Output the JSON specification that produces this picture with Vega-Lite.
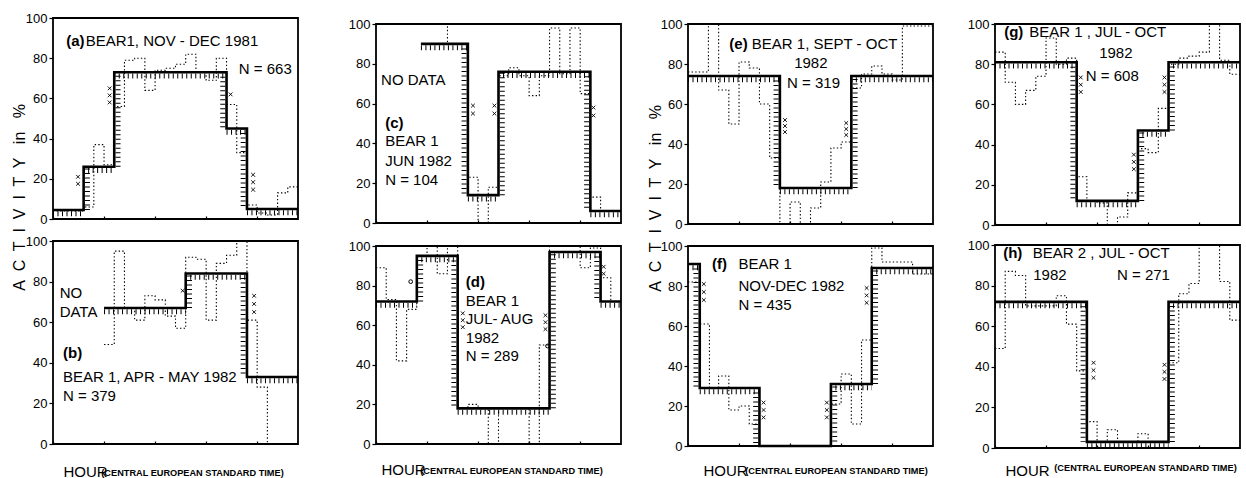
{
"$schema": "https://vega.github.io/schema/vega-lite/v6.json",
"padding": {"left": 10, "top": 7, "right": 0, "bottom": 0},
"background": "white",
"config": {
  "view": {"stroke": "black", "strokeWidth": 1.8},
  "font": "Liberation Sans",
  "axis": {"domain": false, "grid": false, "labelFont": "Liberation Sans", "labelFontSize": 13, "labelColor": "black", "tickColor": "black", "tickWidth": 1.2, "titleFont": "Liberation Sans", "titleColor": "black", "titleFontWeight": "normal", "labelFlush": false, "labelOverlap": false},
  "axisX": {"values": [0,1,2,3,4,5,6,7,8,9,10,11,12,13,14,15,16,17,18,19,20,21,22,23,24], "labelExpr": "datum.value % 6 === 0 && datum.value > 0 ? datum.label : ''", "tickSize": -3, "labelPadding": 2},
  "axisY": {"values": [0,10,20,30,40,50,60,70,80,90,100], "labelExpr": "datum.value % 20 === 0 ? datum.label : ''", "tickSize": 4, "labelPadding": 2},
  "text": {"font": "Liberation Sans", "color": "black"},
  "title": {"font": "Liberation Sans", "color": "black"}
},
"spacing": 18,
"hconcat": [
  {"bounds": "flush", "spacing": 22, "vconcat": [
   {"width": 245, "height": 201,
    "data": {"values": [
     {"s":"s","h":0,"v":4.5},{"s":"s","h":3,"v":26},{"s":"s","h":6,"v":73},{"s":"s","h":17,"v":45},{"s":"s","h":19,"v":5},{"s":"s","h":24,"v":5},
     {"s":"d","h":0,"v":4},{"s":"d","h":1,"v":4},{"s":"d","h":2,"v":4},{"s":"d","h":3,"v":6},{"s":"d","h":4,"v":37},{"s":"d","h":5,"v":27},{"s":"d","h":6,"v":56},{"s":"d","h":7,"v":79},{"s":"d","h":8,"v":80},{"s":"d","h":9,"v":64},{"s":"d","h":10,"v":74},{"s":"d","h":11,"v":75},{"s":"d","h":12,"v":77},{"s":"d","h":13,"v":82},{"s":"d","h":14,"v":73},{"s":"d","h":15,"v":69},{"s":"d","h":16,"v":80},{"s":"d","h":17,"v":57},{"s":"d","h":18,"v":33},{"s":"d","h":19,"v":7},{"s":"d","h":20,"v":3},{"s":"d","h":21,"v":2},{"s":"d","h":22,"v":13},{"s":"d","h":23,"v":16},{"s":"d","h":24,"v":16},
     {"s":"hh","h":0,"h2":3,"v":4.5},{"s":"hh","h":3,"h2":6,"v":26},{"s":"hh","h":6,"h2":17,"v":73},{"s":"hh","h":17,"h2":19,"v":45},{"s":"hh","h":19,"h2":24,"v":5},
     {"s":"hr","h":3,"v":4.5,"v2":26},{"s":"hr","h":6,"v":26,"v2":73},{"s":"hf","h":17,"v":73,"v2":45},{"s":"hf","h":19,"v":45,"v2":5},
     {"s":"x","h":2.45,"v":21},{"s":"x","h":2.45,"v":17.5},{"s":"x","h":5.55,"v":65},{"s":"x","h":5.55,"v":61.5},{"s":"x","h":5.55,"v":58},{"s":"x","h":17.4,"v":62},{"s":"x","h":19.6,"v":22},{"s":"x","h":19.6,"v":18.3},{"s":"x","h":19.6,"v":14.6},
     {"s":"lb","h":1.3,"v":88.5,"t":"(a)"},
     {"s":"l","h":3.2,"v":88.5,"t":"BEAR1, NOV - DEC 1981"},
     {"s":"l","h":18.2,"v":74.5,"t":"N = 663"}
    ]},
    "encoding": {
     "x": {"field":"h","type":"quantitative","scale":{"domain":[0,24],"nice":false,"zero":false},"axis":{"title":" ","titleX":0,"titleY":-211,"titleAlign":"left","titleBaseline":"top","titleFontSize":2}},
     "y": {"field":"v","type":"quantitative","scale":{"domain":[0,100],"nice":false},"axis":{"title":"A\u00a0 C\u00a0 T\u00a0 I\u00a0 V\u00a0 I\u00a0 T\u00a0 Y\u00a0\u00a0 in\u00a0\u00a0 %","titleX":-34,"titleY":179,"titleAngle":-90,"titleAlign":"center","titleBaseline":"middle","titleFontSize":16}}
    },
    "layer": [
     {"transform":[{"filter":"datum.s==='d'"}],"mark":{"type":"line","interpolate":"step-after","color":"black","strokeWidth":1.1,"strokeDash":[1.4,2.2]}},
     {"transform":[{"filter":"datum.s==='hh'"}],"mark":{"type":"rule","color":"black","strokeWidth":5,"strokeDash":[1,3.5],"yOffset":3.8,"clip":true},"encoding":{"x2":{"field":"h2"}}},
     {"transform":[{"filter":"datum.s==='hf'"}],"mark":{"type":"rule","color":"black","strokeWidth":5,"strokeDash":[1,3.5],"xOffset":-3.8,"clip":true},"encoding":{"y2":{"field":"v2"}}},
     {"transform":[{"filter":"datum.s==='hr'"}],"mark":{"type":"rule","color":"black","strokeWidth":5,"strokeDash":[1,3.5],"xOffset":3.8,"clip":true},"encoding":{"y2":{"field":"v2"}}},
     {"transform":[{"filter":"datum.s==='s'"}],"mark":{"type":"line","interpolate":"step-after","color":"black","strokeWidth":2.6}},
     {"transform":[{"filter":"datum.s==='x'"}],"mark":{"type":"point","shape":"M-1,-1L1,1M-1,1L1,-1","size":14,"filled":false,"opacity":1,"color":"black","strokeWidth":0.9}},
     {"transform":[{"filter":"datum.s==='lb'"}],"mark":{"type":"text","align":"left","baseline":"middle","fontSize":15,"fontWeight":"bold"},"encoding":{"text":{"field":"t"}}},
     {"transform":[{"filter":"datum.s==='l'"}],"mark":{"type":"text","align":"left","baseline":"middle","fontSize":15},"encoding":{"text":{"field":"t"}}}
    ]
   },
   {"width": 245, "height": 203,
    "title": {"text":"(CENTRAL EUROPEAN STANDARD TIME)","orient":"bottom","anchor":"start","fontSize":9.2,"fontWeight":"bold","dx":76,"dy":-14},
    "data": {"values": [
     {"s":"s","h":5,"v":67},{"s":"s","h":13,"v":84},{"s":"s","h":19,"v":33},{"s":"s","h":24,"v":33},
     {"s":"d","h":5,"v":49},{"s":"d","h":6,"v":95},{"s":"d","h":7,"v":67},{"s":"d","h":8,"v":61},{"s":"d","h":9,"v":73},{"s":"d","h":10,"v":71},{"s":"d","h":11,"v":63},{"s":"d","h":12,"v":57},{"s":"d","h":13,"v":92},{"s":"d","h":14,"v":91},{"s":"d","h":15,"v":61},{"s":"d","h":16,"v":89},{"s":"d","h":17,"v":93},{"s":"d","h":18,"v":100},{"s":"d","h":19,"v":61},{"s":"d","h":20,"v":28},{"s":"d","h":21,"v":0},{"s":"d","h":22,"v":0},{"s":"d","h":23,"v":0},{"s":"d","h":24,"v":0},
     {"s":"hh","h":5,"h2":13,"v":67},{"s":"hh","h":13,"h2":19,"v":84},{"s":"hh","h":19,"h2":24,"v":33},
     {"s":"hr","h":13,"v":67,"v2":84},{"s":"hf","h":19,"v":84,"v2":33},
     {"s":"x","h":12.7,"v":75.5},{"s":"x","h":19.7,"v":73},{"s":"x","h":19.7,"v":69},{"s":"x","h":19.7,"v":65},
     {"s":"l","h":0.65,"v":74.6,"t":"NO"},
     {"s":"l","h":0.65,"v":64.8,"t":"DATA"},
     {"s":"lb","h":0.98,"v":45,"t":"(b)"},
     {"s":"l","h":0.98,"v":32.8,"t":"BEAR 1, APR - MAY 1982"},
     {"s":"l","h":0.98,"v":23.8,"t":"N = 379"}
    ]},
    "encoding": {
     "x": {"field":"h","type":"quantitative","scale":{"domain":[0,24],"nice":false,"zero":false},"axis":{"title":"HOUR","titleX":10,"titleY":32,"titleAlign":"left","titleBaseline":"alphabetic","titleFontSize":15}},
     "y": {"field":"v","type":"quantitative","scale":{"domain":[0,100],"nice":false},"axis":{"title":null}}
    },
    "layer": [
     {"transform":[{"filter":"datum.s==='d'"}],"mark":{"type":"line","interpolate":"step-after","color":"black","strokeWidth":1.1,"strokeDash":[1.4,2.2]}},
     {"transform":[{"filter":"datum.s==='hh'"}],"mark":{"type":"rule","color":"black","strokeWidth":5,"strokeDash":[1,3.5],"yOffset":3.8,"clip":true},"encoding":{"x2":{"field":"h2"}}},
     {"transform":[{"filter":"datum.s==='hf'"}],"mark":{"type":"rule","color":"black","strokeWidth":5,"strokeDash":[1,3.5],"xOffset":-3.8,"clip":true},"encoding":{"y2":{"field":"v2"}}},
     {"transform":[{"filter":"datum.s==='hr'"}],"mark":{"type":"rule","color":"black","strokeWidth":5,"strokeDash":[1,3.5],"xOffset":3.8,"clip":true},"encoding":{"y2":{"field":"v2"}}},
     {"transform":[{"filter":"datum.s==='s'"}],"mark":{"type":"line","interpolate":"step-after","color":"black","strokeWidth":2.6}},
     {"transform":[{"filter":"datum.s==='x'"}],"mark":{"type":"point","shape":"M-1,-1L1,1M-1,1L1,-1","size":14,"filled":false,"opacity":1,"color":"black","strokeWidth":0.9}},
     {"transform":[{"filter":"datum.s==='lb'"}],"mark":{"type":"text","align":"left","baseline":"middle","fontSize":15,"fontWeight":"bold"},"encoding":{"text":{"field":"t"}}},
     {"transform":[{"filter":"datum.s==='l'"}],"mark":{"type":"text","align":"left","baseline":"middle","fontSize":15},"encoding":{"text":{"field":"t"}}}
    ]
   }
  ]},
  {"bounds": "flush", "spacing": 5, "vconcat": [
  {"width": 1, "height": 1, "view": {"stroke": null}, "data": {"values": [{"s": "z"}]}, "mark": {"type": "point", "opacity": 0, "size": 1}},
  {"spacing": 18, "hconcat": [
  {"bounds": "flush", "spacing": 23, "vconcat": [
    {"width": 245, "height": 199,
     "data": {"values": [
      {"s":"s","h":4.4,"v":90},{"s":"s","h":9,"v":14},{"s":"s","h":12,"v":76},{"s":"s","h":21,"v":6},{"s":"s","h":24,"v":6},
      {"s":"d","h":4.4,"v":100},{"s":"d","h":7,"v":90},{"s":"d","h":8,"v":90},{"s":"d","h":9,"v":23},{"s":"d","h":10,"v":0},{"s":"d","h":11,"v":18},{"s":"d","h":12,"v":74},{"s":"d","h":13,"v":78},{"s":"d","h":14,"v":74},{"s":"d","h":15,"v":64},{"s":"d","h":16,"v":74},{"s":"d","h":17,"v":98},{"s":"d","h":18,"v":75},{"s":"d","h":19,"v":98},{"s":"d","h":20,"v":65},{"s":"d","h":21,"v":13},{"s":"d","h":22,"v":6},{"s":"d","h":23,"v":6},{"s":"d","h":24,"v":6},
      {"s":"hh","h":4.4,"h2":9,"v":90},{"s":"hh","h":9,"h2":12,"v":14},{"s":"hh","h":12,"h2":21,"v":76},{"s":"hh","h":21,"h2":24,"v":6},
      {"s":"hf","h":9,"v":90,"v2":14},{"s":"hr","h":12,"v":14,"v2":76},{"s":"hf","h":21,"v":76,"v2":6},
      {"s":"x","h":9.5,"v":59},{"s":"x","h":9.5,"v":55},{"s":"x","h":11.6,"v":59},{"s":"x","h":11.6,"v":55},{"s":"x","h":21.3,"v":58},{"s":"x","h":21.3,"v":54},
      {"s":"l","h":0.5,"v":72,"t":"NO DATA"},
      {"s":"lb","h":0.9,"v":50.3,"t":"(c)"},
      {"s":"l","h":0.9,"v":41,"t":"BEAR 1"},
      {"s":"l","h":0.9,"v":31.3,"t":"JUN 1982"},
      {"s":"l","h":0.9,"v":21.8,"t":"N = 104"}
     ]},
     "encoding": {
      "x": {"field":"h","type":"quantitative","scale":{"domain":[0,24],"nice":false,"zero":false},"axis":{"title":null}},
      "y": {"field":"v","type":"quantitative","scale":{"domain":[0,100],"nice":false},"axis":{"title":" ","titleX":-51.5,"titleY":0,"titleAngle":0,"titleAlign":"left","titleBaseline":"top","titleFontSize":2}}
     },
     "layer": [
      {"transform":[{"filter":"datum.s==='d'"}],"mark":{"type":"line","interpolate":"step-after","color":"black","strokeWidth":1.1,"strokeDash":[1.4,2.2]}},
      {"transform":[{"filter":"datum.s==='hh'"}],"mark":{"type":"rule","color":"black","strokeWidth":5,"strokeDash":[1,3.5],"yOffset":3.8,"clip":true},"encoding":{"x2":{"field":"h2"}}},
      {"transform":[{"filter":"datum.s==='hf'"}],"mark":{"type":"rule","color":"black","strokeWidth":5,"strokeDash":[1,3.5],"xOffset":-3.8,"clip":true},"encoding":{"y2":{"field":"v2"}}},
      {"transform":[{"filter":"datum.s==='hr'"}],"mark":{"type":"rule","color":"black","strokeWidth":5,"strokeDash":[1,3.5],"xOffset":3.8,"clip":true},"encoding":{"y2":{"field":"v2"}}},
      {"transform":[{"filter":"datum.s==='s'"}],"mark":{"type":"line","interpolate":"step-after","color":"black","strokeWidth":2.6}},
      {"transform":[{"filter":"datum.s==='x'"}],"mark":{"type":"point","shape":"M-1,-1L1,1M-1,1L1,-1","size":14,"filled":false,"opacity":1,"color":"black","strokeWidth":0.9}},
      {"transform":[{"filter":"datum.s==='lb'"}],"mark":{"type":"text","align":"left","baseline":"middle","fontSize":15,"fontWeight":"bold"},"encoding":{"text":{"field":"t"}}},
      {"transform":[{"filter":"datum.s==='l'"}],"mark":{"type":"text","align":"left","baseline":"middle","fontSize":15},"encoding":{"text":{"field":"t"}}}
     ]
    },
    {"width": 245, "height": 198,
     "title": {"text":"(CENTRAL EUROPEAN STANDARD TIME)","orient":"bottom","anchor":"start","fontSize":9.2,"fontWeight":"bold","dx":72,"dy":-14},
     "data": {"values": [
      {"s":"s","h":0,"v":72},{"s":"s","h":4,"v":95},{"s":"s","h":8,"v":18},{"s":"s","h":17,"v":97},{"s":"s","h":22,"v":72},{"s":"s","h":24,"v":72},
      {"s":"d","h":0,"v":89},{"s":"d","h":1,"v":73},{"s":"d","h":2,"v":42},{"s":"d","h":3,"v":68},{"s":"d","h":4,"v":95},{"s":"d","h":5,"v":100},{"s":"d","h":6,"v":86},{"s":"d","h":7,"v":100},{"s":"d","h":8,"v":18},{"s":"d","h":9,"v":20},{"s":"d","h":10,"v":18},{"s":"d","h":11,"v":0},{"s":"d","h":12,"v":18},{"s":"d","h":13,"v":18},{"s":"d","h":14,"v":18},{"s":"d","h":15,"v":0},{"s":"d","h":16,"v":50},{"s":"d","h":17,"v":100},{"s":"d","h":18,"v":100},{"s":"d","h":19,"v":100},{"s":"d","h":20,"v":89},{"s":"d","h":21,"v":99},{"s":"d","h":22,"v":84},{"s":"d","h":23,"v":72},{"s":"d","h":24,"v":72},
      {"s":"hh","h":0,"h2":4,"v":72},{"s":"hh","h":4,"h2":8,"v":95},{"s":"hh","h":8,"h2":17,"v":18},{"s":"hh","h":17,"h2":22,"v":97},{"s":"hh","h":22,"h2":24,"v":72},
      {"s":"hr","h":4,"v":72,"v2":95},{"s":"hf","h":8,"v":95,"v2":18},{"s":"hr","h":17,"v":18,"v2":97},{"s":"hf","h":22,"v":97,"v2":72},
      {"s":"x","h":8.5,"v":66},{"s":"x","h":8.5,"v":62.5},{"s":"x","h":8.5,"v":59},{"s":"x","h":16.6,"v":65},{"s":"x","h":16.6,"v":61.5},{"s":"x","h":16.6,"v":58},{"s":"x","h":22.3,"v":89.5},{"s":"x","h":22.3,"v":86},
      {"s":"o","h":3.4,"v":82},{"s":"o","h":16.8,"v":49.5},
      {"s":"lb","h":8.8,"v":82,"t":"(d)"},
      {"s":"l","h":8.8,"v":72,"t":"BEAR 1"},
      {"s":"l","h":8.8,"v":63.3,"t":"JUL- AUG"},
      {"s":"l","h":8.8,"v":53.7,"t":"1982"},
      {"s":"l","h":8.8,"v":44.5,"t":"N = 289"}
     ]},
     "encoding": {
      "x": {"field":"h","type":"quantitative","scale":{"domain":[0,24],"nice":false,"zero":false},"axis":{"title":"HOUR","titleX":5,"titleY":30,"titleAlign":"left","titleBaseline":"alphabetic","titleFontSize":15}},
      "y": {"field":"v","type":"quantitative","scale":{"domain":[0,100],"nice":false},"axis":{"title":null}}
     },
     "layer": [
      {"transform":[{"filter":"datum.s==='d'"}],"mark":{"type":"line","interpolate":"step-after","color":"black","strokeWidth":1.1,"strokeDash":[1.4,2.2]}},
      {"transform":[{"filter":"datum.s==='hh'"}],"mark":{"type":"rule","color":"black","strokeWidth":5,"strokeDash":[1,3.5],"yOffset":3.8,"clip":true},"encoding":{"x2":{"field":"h2"}}},
      {"transform":[{"filter":"datum.s==='hf'"}],"mark":{"type":"rule","color":"black","strokeWidth":5,"strokeDash":[1,3.5],"xOffset":-3.8,"clip":true},"encoding":{"y2":{"field":"v2"}}},
      {"transform":[{"filter":"datum.s==='hr'"}],"mark":{"type":"rule","color":"black","strokeWidth":5,"strokeDash":[1,3.5],"xOffset":3.8,"clip":true},"encoding":{"y2":{"field":"v2"}}},
      {"transform":[{"filter":"datum.s==='s'"}],"mark":{"type":"line","interpolate":"step-after","color":"black","strokeWidth":2.6}},
      {"transform":[{"filter":"datum.s==='x'"}],"mark":{"type":"point","shape":"M-1,-1L1,1M-1,1L1,-1","size":14,"filled":false,"opacity":1,"color":"black","strokeWidth":0.9}},
      {"transform":[{"filter":"datum.s==='o'"}],"mark":{"type":"point","shape":"circle","size":14,"filled":false,"opacity":1,"color":"black","strokeWidth":1}},
      {"transform":[{"filter":"datum.s==='lb'"}],"mark":{"type":"text","align":"left","baseline":"middle","fontSize":15,"fontWeight":"bold"},"encoding":{"text":{"field":"t"}}},
      {"transform":[{"filter":"datum.s==='l'"}],"mark":{"type":"text","align":"left","baseline":"middle","fontSize":15},"encoding":{"text":{"field":"t"}}}
     ]
    }
  ]},
  {"bounds": "flush", "spacing": 22, "vconcat": [
    {"width": 245, "height": 200,
     "data": {"values": [
      {"s":"s","h":0,"v":74},{"s":"s","h":9,"v":18},{"s":"s","h":16,"v":74},{"s":"s","h":24,"v":74},
      {"s":"d","h":0,"v":76},{"s":"d","h":1,"v":76},{"s":"d","h":2,"v":100},{"s":"d","h":3,"v":67},{"s":"d","h":4,"v":50},{"s":"d","h":5,"v":81},{"s":"d","h":6,"v":78},{"s":"d","h":7,"v":60},{"s":"d","h":8,"v":33},{"s":"d","h":9,"v":0},{"s":"d","h":10,"v":11},{"s":"d","h":11,"v":0},{"s":"d","h":12,"v":8},{"s":"d","h":13,"v":21},{"s":"d","h":14,"v":38},{"s":"d","h":15,"v":41},{"s":"d","h":16,"v":68},{"s":"d","h":17,"v":75},{"s":"d","h":18,"v":79},{"s":"d","h":19,"v":75},{"s":"d","h":20,"v":72},{"s":"d","h":21,"v":99},{"s":"d","h":22,"v":99},{"s":"d","h":23,"v":99},{"s":"d","h":24,"v":99},
      {"s":"hh","h":0,"h2":9,"v":74},{"s":"hh","h":9,"h2":16,"v":18},{"s":"hh","h":16,"h2":24,"v":74},
      {"s":"hf","h":9,"v":74,"v2":18},{"s":"hr","h":16,"v":18,"v2":74},
      {"s":"x","h":9.5,"v":52},{"s":"x","h":9.5,"v":49},{"s":"x","h":9.5,"v":46},{"s":"x","h":15.5,"v":50.5},{"s":"x","h":15.5,"v":47.5},{"s":"x","h":15.5,"v":44.5},
      {"s":"lb","h":4.05,"v":90.2,"t":"(e)"},
      {"s":"l","h":6.25,"v":90.2,"t":"BEAR 1, SEPT - OCT"},
      {"s":"l","h":10.4,"v":80.5,"t":"1982"},
      {"s":"l","h":9.7,"v":70.5,"t":"N  =  319"}
     ]},
     "encoding": {
      "x": {"field":"h","type":"quantitative","scale":{"domain":[0,24],"nice":false,"zero":false},"axis":{"title":null}},
      "y": {"field":"v","type":"quantitative","scale":{"domain":[0,100],"nice":false},"axis":{"title":"A\u00a0 C\u00a0 T\u00a0 I\u00a0 V\u00a0 I\u00a0 T\u00a0 Y\u00a0\u00a0 in\u00a0\u00a0 %","titleX":-33,"titleY":174,"titleAngle":-90,"titleAlign":"center","titleBaseline":"middle","titleFontSize":16}}
     },
     "layer": [
      {"transform":[{"filter":"datum.s==='d'"}],"mark":{"type":"line","interpolate":"step-after","color":"black","strokeWidth":1.1,"strokeDash":[1.4,2.2]}},
      {"transform":[{"filter":"datum.s==='hh'"}],"mark":{"type":"rule","color":"black","strokeWidth":5,"strokeDash":[1,3.5],"yOffset":3.8,"clip":true},"encoding":{"x2":{"field":"h2"}}},
      {"transform":[{"filter":"datum.s==='hf'"}],"mark":{"type":"rule","color":"black","strokeWidth":5,"strokeDash":[1,3.5],"xOffset":-3.8,"clip":true},"encoding":{"y2":{"field":"v2"}}},
      {"transform":[{"filter":"datum.s==='hr'"}],"mark":{"type":"rule","color":"black","strokeWidth":5,"strokeDash":[1,3.5],"xOffset":3.8,"clip":true},"encoding":{"y2":{"field":"v2"}}},
      {"transform":[{"filter":"datum.s==='s'"}],"mark":{"type":"line","interpolate":"step-after","color":"black","strokeWidth":2.6}},
      {"transform":[{"filter":"datum.s==='x'"}],"mark":{"type":"point","shape":"M-1,-1L1,1M-1,1L1,-1","size":14,"filled":false,"opacity":1,"color":"black","strokeWidth":0.9}},
      {"transform":[{"filter":"datum.s==='lb'"}],"mark":{"type":"text","align":"left","baseline":"middle","fontSize":15,"fontWeight":"bold"},"encoding":{"text":{"field":"t"}}},
      {"transform":[{"filter":"datum.s==='l'"}],"mark":{"type":"text","align":"left","baseline":"middle","fontSize":15},"encoding":{"text":{"field":"t"}}}
     ]
    },
    {"width": 245, "height": 200,
     "title": {"text":"(CENTRAL EUROPEAN STANDARD TIME)","orient":"bottom","anchor":"start","fontSize":9.2,"fontWeight":"bold","dx":85,"dy":-15},
     "data": {"values": [
      {"s":"s","h":0,"v":91},{"s":"s","h":1.15,"v":29},{"s":"s","h":7,"v":0},{"s":"s","h":14,"v":31},{"s":"s","h":18,"v":89},{"s":"s","h":24,"v":89},
      {"s":"d","h":0,"v":82},{"s":"d","h":1.15,"v":61},{"s":"d","h":2.1,"v":29},{"s":"d","h":3,"v":35},{"s":"d","h":4,"v":18},{"s":"d","h":5,"v":20},{"s":"d","h":6,"v":11},{"s":"d","h":7,"v":0},{"s":"d","h":14,"v":21},{"s":"d","h":15,"v":36},{"s":"d","h":16,"v":11},{"s":"d","h":17,"v":53},{"s":"d","h":18,"v":99},{"s":"d","h":19,"v":92},{"s":"d","h":22,"v":86},{"s":"d","h":24,"v":86},
      {"s":"hh","h":0,"h2":1.15,"v":91},{"s":"hh","h":1.15,"h2":7,"v":29},{"s":"hh","h":7,"h2":14,"v":0},{"s":"hh","h":14,"h2":18,"v":31},{"s":"hh","h":18,"h2":24,"v":89},
      {"s":"hf","h":1.15,"v":91,"v2":29},{"s":"hf","h":7,"v":29,"v2":0},{"s":"hr","h":14,"v":0,"v2":31},{"s":"hr","h":18,"v":31,"v2":89},
      {"s":"x","h":1.55,"v":81},{"s":"x","h":1.55,"v":77},{"s":"x","h":1.55,"v":73},{"s":"x","h":7.4,"v":21.7},{"s":"x","h":7.4,"v":18},{"s":"x","h":7.4,"v":14.3},{"s":"x","h":13.6,"v":21.7},{"s":"x","h":13.6,"v":18},{"s":"x","h":13.6,"v":14.3},{"s":"x","h":17.5,"v":79},{"s":"x","h":17.5,"v":75.3},{"s":"x","h":17.5,"v":71.6},
      {"s":"lb","h":2.35,"v":90.8,"t":"(f)"},
      {"s":"l","h":4.95,"v":90.8,"t":"BEAR 1"},
      {"s":"l","h":4.95,"v":80,"t":"NOV-DEC   1982"},
      {"s":"l","h":4.95,"v":70.5,"t":"N  =  435"}
     ]},
     "encoding": {
      "x": {"field":"h","type":"quantitative","scale":{"domain":[0,24],"nice":false,"zero":false},"axis":{"title":"HOUR","titleX":15,"titleY":29,"titleAlign":"left","titleBaseline":"alphabetic","titleFontSize":15}},
      "y": {"field":"v","type":"quantitative","scale":{"domain":[0,100],"nice":false},"axis":{"title":null}}
     },
     "layer": [
      {"transform":[{"filter":"datum.s==='d'"}],"mark":{"type":"line","interpolate":"step-after","color":"black","strokeWidth":1.1,"strokeDash":[1.4,2.2]}},
      {"transform":[{"filter":"datum.s==='hh'"}],"mark":{"type":"rule","color":"black","strokeWidth":5,"strokeDash":[1,3.5],"yOffset":3.8,"clip":true},"encoding":{"x2":{"field":"h2"}}},
      {"transform":[{"filter":"datum.s==='hf'"}],"mark":{"type":"rule","color":"black","strokeWidth":5,"strokeDash":[1,3.5],"xOffset":-3.8,"clip":true},"encoding":{"y2":{"field":"v2"}}},
      {"transform":[{"filter":"datum.s==='hr'"}],"mark":{"type":"rule","color":"black","strokeWidth":5,"strokeDash":[1,3.5],"xOffset":3.8,"clip":true},"encoding":{"y2":{"field":"v2"}}},
      {"transform":[{"filter":"datum.s==='s'"}],"mark":{"type":"line","interpolate":"step-after","color":"black","strokeWidth":2.6}},
      {"transform":[{"filter":"datum.s==='x'"}],"mark":{"type":"point","shape":"M-1,-1L1,1M-1,1L1,-1","size":14,"filled":false,"opacity":1,"color":"black","strokeWidth":0.9}},
      {"transform":[{"filter":"datum.s==='lb'"}],"mark":{"type":"text","align":"left","baseline":"middle","fontSize":15,"fontWeight":"bold"},"encoding":{"text":{"field":"t"}}},
      {"transform":[{"filter":"datum.s==='l'"}],"mark":{"type":"text","align":"left","baseline":"middle","fontSize":15},"encoding":{"text":{"field":"t"}}}
     ]
    }
  ]},
  {"bounds": "flush", "spacing": 20, "vconcat": [
    {"width": 245, "height": 201,
     "data": {"values": [
      {"s":"s","h":0,"v":81},{"s":"s","h":8,"v":12},{"s":"s","h":14,"v":47},{"s":"s","h":17,"v":81},{"s":"s","h":24,"v":81},
      {"s":"d","h":0,"v":86},{"s":"d","h":1,"v":71},{"s":"d","h":2,"v":60},{"s":"d","h":3,"v":67},{"s":"d","h":4,"v":74},{"s":"d","h":5,"v":93},{"s":"d","h":6,"v":80},{"s":"d","h":7,"v":83},{"s":"d","h":8,"v":24},{"s":"d","h":9,"v":12},{"s":"d","h":10,"v":11},{"s":"d","h":11,"v":0},{"s":"d","h":12,"v":4},{"s":"d","h":13,"v":16},{"s":"d","h":14,"v":38},{"s":"d","h":15,"v":36},{"s":"d","h":16,"v":58},{"s":"d","h":17,"v":80},{"s":"d","h":18,"v":83},{"s":"d","h":19,"v":84},{"s":"d","h":20,"v":86},{"s":"d","h":21,"v":100},{"s":"d","h":22,"v":82},{"s":"d","h":23,"v":75},{"s":"d","h":24,"v":75},
      {"s":"hh","h":0,"h2":8,"v":81},{"s":"hh","h":8,"h2":14,"v":12},{"s":"hh","h":14,"h2":17,"v":47},{"s":"hh","h":17,"h2":24,"v":81},
      {"s":"hf","h":8,"v":81,"v2":12},{"s":"hr","h":14,"v":12,"v2":47},{"s":"hr","h":17,"v":47,"v2":81},
      {"s":"x","h":8.4,"v":73.4},{"s":"x","h":8.4,"v":69.8},{"s":"x","h":8.4,"v":66.2},{"s":"x","h":13.6,"v":35},{"s":"x","h":13.6,"v":31.4},{"s":"x","h":13.6,"v":27.8},{"s":"x","h":16.6,"v":73.4},{"s":"x","h":16.6,"v":69.8},{"s":"x","h":16.6,"v":66.2},
      {"s":"lb","h":0.9,"v":95.8,"t":"(g)"},
      {"s":"l","h":3.35,"v":95.8,"t":"BEAR 1 , JUL - OCT"},
      {"s":"l","h":10.2,"v":85.7,"t":"1982"},
      {"s":"l","h":8.9,"v":74,"t":"N  =  608"}
     ]},
     "encoding": {
      "x": {"field":"h","type":"quantitative","scale":{"domain":[0,24],"nice":false,"zero":false},"axis":{"title":null}},
      "y": {"field":"v","type":"quantitative","scale":{"domain":[0,100],"nice":false},"axis":{"title":" ","titleX":-35.5,"titleY":0,"titleAngle":0,"titleAlign":"left","titleBaseline":"top","titleFontSize":2}}
     },
     "layer": [
      {"transform":[{"filter":"datum.s==='d'"}],"mark":{"type":"line","interpolate":"step-after","color":"black","strokeWidth":1.1,"strokeDash":[1.4,2.2]}},
      {"transform":[{"filter":"datum.s==='hh'"}],"mark":{"type":"rule","color":"black","strokeWidth":5,"strokeDash":[1,3.5],"yOffset":3.8,"clip":true},"encoding":{"x2":{"field":"h2"}}},
      {"transform":[{"filter":"datum.s==='hf'"}],"mark":{"type":"rule","color":"black","strokeWidth":5,"strokeDash":[1,3.5],"xOffset":-3.8,"clip":true},"encoding":{"y2":{"field":"v2"}}},
      {"transform":[{"filter":"datum.s==='hr'"}],"mark":{"type":"rule","color":"black","strokeWidth":5,"strokeDash":[1,3.5],"xOffset":3.8,"clip":true},"encoding":{"y2":{"field":"v2"}}},
      {"transform":[{"filter":"datum.s==='s'"}],"mark":{"type":"line","interpolate":"step-after","color":"black","strokeWidth":2.6}},
      {"transform":[{"filter":"datum.s==='x'"}],"mark":{"type":"point","shape":"M-1,-1L1,1M-1,1L1,-1","size":14,"filled":false,"opacity":1,"color":"black","strokeWidth":0.9}},
      {"transform":[{"filter":"datum.s==='lb'"}],"mark":{"type":"text","align":"left","baseline":"middle","fontSize":15,"fontWeight":"bold"},"encoding":{"text":{"field":"t"}}},
      {"transform":[{"filter":"datum.s==='l'"}],"mark":{"type":"text","align":"left","baseline":"middle","fontSize":15},"encoding":{"text":{"field":"t"}}}
     ]
    },
    {"width": 245, "height": 203,
     "title": {"text":"(CENTRAL EUROPEAN STANDARD TIME)","orient":"bottom","anchor":"start","fontSize":9.2,"fontWeight":"bold","dx":87,"dy":-18},
     "data": {"values": [
      {"s":"s","h":0,"v":72},{"s":"s","h":9,"v":3},{"s":"s","h":17,"v":72},{"s":"s","h":24,"v":72},
      {"s":"d","h":0,"v":49},{"s":"d","h":1,"v":87},{"s":"d","h":2,"v":85},{"s":"d","h":3,"v":70},{"s":"d","h":4,"v":70},{"s":"d","h":5,"v":70},{"s":"d","h":6,"v":75},{"s":"d","h":7,"v":61},{"s":"d","h":8,"v":38},{"s":"d","h":9,"v":13},{"s":"d","h":10,"v":3},{"s":"d","h":11,"v":9},{"s":"d","h":12,"v":3},{"s":"d","h":13,"v":3},{"s":"d","h":14,"v":7},{"s":"d","h":15,"v":3},{"s":"d","h":16,"v":3},{"s":"d","h":17,"v":42},{"s":"d","h":18,"v":76},{"s":"d","h":19,"v":81},{"s":"d","h":20,"v":100},{"s":"d","h":21,"v":100},{"s":"d","h":22,"v":82},{"s":"d","h":23,"v":63},{"s":"d","h":24,"v":63},
      {"s":"hh","h":0,"h2":9,"v":72},{"s":"hh","h":9,"h2":17,"v":3},{"s":"hh","h":17,"h2":24,"v":72},
      {"s":"hf","h":9,"v":72,"v2":3},{"s":"hr","h":17,"v":3,"v2":72},
      {"s":"x","h":9.65,"v":42},{"s":"x","h":9.65,"v":38.3},{"s":"x","h":9.65,"v":34.6},{"s":"x","h":16.6,"v":41},{"s":"x","h":16.6,"v":37.5},{"s":"x","h":16.6,"v":34},
      {"s":"lb","h":0.8,"v":96.2,"t":"(h)"},
      {"s":"l","h":3.7,"v":96.2,"t":"BEAR 2 , JUL - OCT"},
      {"s":"l","h":3.75,"v":85,"t":"1982"},
      {"s":"l","h":11.95,"v":85,"t":"N  =  271"}
     ]},
     "encoding": {
      "x": {"field":"h","type":"quantitative","scale":{"domain":[0,24],"nice":false,"zero":false},"axis":{"title":"HOUR","titleX":10,"titleY":27,"titleAlign":"left","titleBaseline":"alphabetic","titleFontSize":15}},
      "y": {"field":"v","type":"quantitative","scale":{"domain":[0,100],"nice":false},"axis":{"title":null}}
     },
     "layer": [
      {"transform":[{"filter":"datum.s==='d'"}],"mark":{"type":"line","interpolate":"step-after","color":"black","strokeWidth":1.1,"strokeDash":[1.4,2.2]}},
      {"transform":[{"filter":"datum.s==='hh'"}],"mark":{"type":"rule","color":"black","strokeWidth":5,"strokeDash":[1,3.5],"yOffset":3.8,"clip":true},"encoding":{"x2":{"field":"h2"}}},
      {"transform":[{"filter":"datum.s==='hf'"}],"mark":{"type":"rule","color":"black","strokeWidth":5,"strokeDash":[1,3.5],"xOffset":-3.8,"clip":true},"encoding":{"y2":{"field":"v2"}}},
      {"transform":[{"filter":"datum.s==='hr'"}],"mark":{"type":"rule","color":"black","strokeWidth":5,"strokeDash":[1,3.5],"xOffset":3.8,"clip":true},"encoding":{"y2":{"field":"v2"}}},
      {"transform":[{"filter":"datum.s==='s'"}],"mark":{"type":"line","interpolate":"step-after","color":"black","strokeWidth":2.6}},
      {"transform":[{"filter":"datum.s==='x'"}],"mark":{"type":"point","shape":"M-1,-1L1,1M-1,1L1,-1","size":14,"filled":false,"opacity":1,"color":"black","strokeWidth":0.9}},
      {"transform":[{"filter":"datum.s==='lb'"}],"mark":{"type":"text","align":"left","baseline":"middle","fontSize":15,"fontWeight":"bold"},"encoding":{"text":{"field":"t"}}},
      {"transform":[{"filter":"datum.s==='l'"}],"mark":{"type":"text","align":"left","baseline":"middle","fontSize":15},"encoding":{"text":{"field":"t"}}}
     ]
    }
  ]}
  ]}
  ]}
]
}
